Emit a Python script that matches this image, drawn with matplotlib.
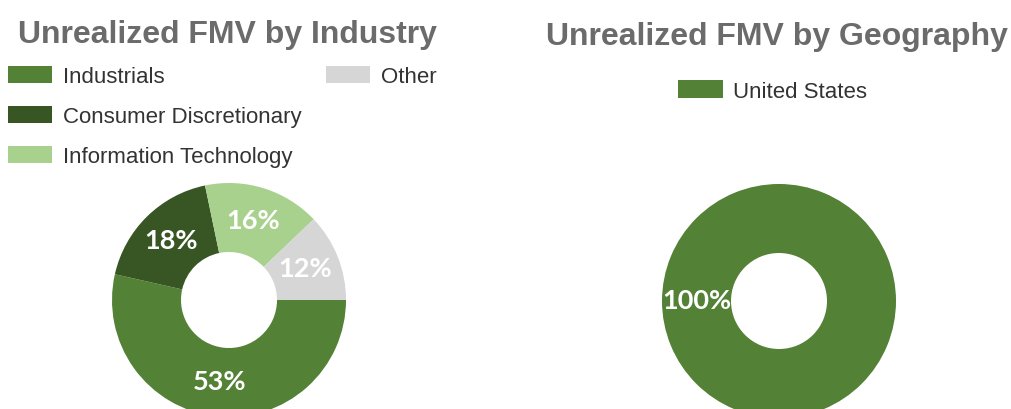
import matplotlib
matplotlib.use("Agg")
import matplotlib.pyplot as plt
from matplotlib.patches import Rectangle
import numpy as np

# ---------- data ----------
industries = ["Industrials", "Consumer Discretionary", "Information Technology", "Other"]
industry_pct = [53, 18, 16, 12]
industry_colors = ["#538135", "#375623", "#A9D18E", "#D6D6D6"]

geographies = ["United States"]
geo_pct = [100]
geo_colors = ["#538135"]

W, H = 1011, 409
fig = plt.figure(figsize=(W / 100, H / 100), dpi=100)
ax = fig.add_axes([0, 0, 1, 1])


def Y(y):
    # image rows (from top) -> axes units
    return H - y


title_color = "#6b6b6b"
legend_color = "#333333"
outer_r = 117
hole_r = 48


def donut(values, colors, cx, cy, labels):
    wedges, _ = ax.pie(values, colors=colors, startangle=0, counterclock=False,
                       radius=outer_r, center=(cx, Y(cy)), frame=True,
                       wedgeprops=dict(width=outer_r - hole_r, linewidth=0))
    r_mid = (outer_r + hole_r) / 2
    for w, lab in zip(wedges, labels):
        ang = np.deg2rad((w.theta1 + w.theta2) / 2)
        ax.text(cx + r_mid * np.cos(ang), Y(cy) + r_mid * np.sin(ang), lab,
                ha="center", va="center", color="white", fontsize=19.5,
                fontweight="bold", family="Lato")
    return wedges


donut(industry_pct, industry_colors, 229, 300, [f"{v}%" for v in industry_pct])
donut(geo_pct, geo_colors, 779, 301, [f"{v}%" for v in geo_pct])

# titles
ax.text(227, Y(43), "Unrealized FMV by Industry", ha="center", va="baseline",
        fontsize=23, fontweight="bold", color=title_color, family="Liberation Sans")
ax.text(777, Y(45), "Unrealized FMV by Geography", ha="center", va="baseline",
        fontsize=23, fontweight="bold", color=title_color, family="Liberation Sans")

# legends (manual layout to match the original)
legend_slots = [(8, 74.5), (8, 114.5), (8, 154.5), (326, 74.5)]
for (lx, ly), name, col in zip(legend_slots, industries, industry_colors):
    ax.add_patch(Rectangle((lx, Y(ly + 8.5)), 44, 17, color=col, lw=0))
    ax.text(lx + 55, Y(ly + 8.5), name, ha="left", va="baseline",
            fontsize=16, color=legend_color, family="Liberation Sans")

for name, col in zip(geographies, geo_colors):
    ax.add_patch(Rectangle((678, Y(98)), 45, 18, color=col, lw=0))
    ax.text(733, Y(98), name, ha="left", va="baseline",
            fontsize=16, color=legend_color, family="Liberation Sans")

ax.set_xlim(0, W)
ax.set_ylim(0, H)
ax.set_aspect("auto")
ax.axis("off")

fig.savefig("out.png", dpi=100)
